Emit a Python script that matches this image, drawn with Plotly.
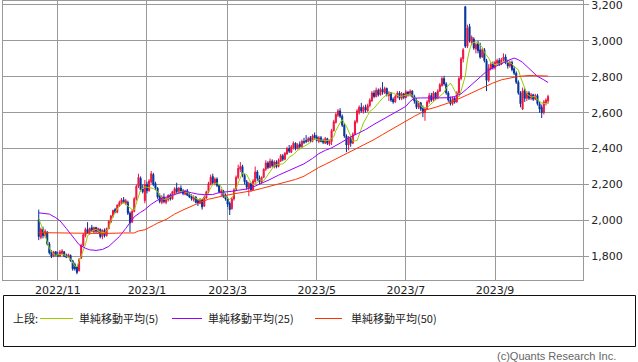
import plotly.graph_objects as go

# ---------------- data ----------------
month_tick_index = [9, 51, 89, 131, 173, 215]
month_tick_labels = ["2022/11", "2023/1", "2023/3", "2023/5", "2023/7", "2023/9"]
price_ticks = [1800, 2000, 2200, 2400, 2600, 2800, 3000, 3200]

opens = [
    2005, 1905, 1950, 1915, 1935, 1870, 1825, 1800, 1825, 1810,
    1800, 1815, 1825, 1805, 1795, 1805, 1775, 1755, 1740, 1720,
    1790, 1860, 1915, 1950, 1930, 1960, 1935, 1960, 1935, 1950,
    1910, 1945, 1915, 1955, 1990, 2025, 2060, 2045, 2080, 2095,
    2115, 2095, 2100, 2040, 1990, 2050, 2120, 2190, 2235, 2175,
    2110, 2200, 2165, 2215, 2255, 2205, 2180, 2135, 2100, 2130,
    2100, 2115, 2140, 2120, 2150, 2180, 2155, 2180, 2165, 2145,
    2165, 2145, 2135, 2115, 2130, 2110, 2095, 2115, 2080, 2125,
    2160, 2200, 2245, 2205, 2230, 2195, 2155, 2165, 2140, 2120,
    2095, 2065, 2120, 2170, 2240, 2285, 2300, 2250, 2215, 2180,
    2205, 2170, 2215, 2270, 2235, 2210, 2240, 2285, 2320, 2295,
    2330, 2300, 2325, 2300, 2330, 2360, 2340, 2370, 2400, 2380,
    2405, 2430, 2400, 2425, 2410, 2440, 2445, 2440, 2460, 2440,
    2475, 2465, 2440, 2460, 2445, 2430, 2455, 2425, 2440, 2500,
    2545, 2585, 2610, 2580, 2530, 2470, 2420, 2455, 2430, 2480,
    2550, 2600, 2630, 2605, 2630, 2610, 2640, 2665, 2710, 2690,
    2725, 2700, 2730, 2710, 2735, 2695, 2710, 2675, 2660, 2690,
    2710, 2680, 2705, 2685, 2715, 2700, 2720, 2690, 2670, 2630,
    2655, 2625, 2600, 2620, 2660, 2695, 2670, 2710, 2680, 2720,
    2750, 2790, 2760, 2710, 2670, 2650, 2680, 2660, 2710, 2790,
    2900, 3190, 2970, 3080, 2990, 3010, 2955, 2985, 2950, 2910,
    2950, 2890, 2780, 2845, 2870, 2850, 2875, 2890, 2870, 2895,
    2910, 2880, 2860, 2880, 2845, 2820, 2770, 2710, 2620, 2725,
    2680, 2710, 2680, 2700, 2675, 2695, 2650, 2630, 2600, 2655,
    2665,
]
highs = [
    2060, 1960, 1965, 1950, 1940, 1880, 1835, 1830, 1830, 1825,
    1835, 1840, 1830, 1815, 1815, 1810, 1780, 1765, 1745, 1790,
    1870, 1930, 1960, 1990, 1960, 1975, 1965, 1965, 1960, 1955,
    1950, 1955, 1960, 2000, 2030, 2060, 2070, 2090, 2110, 2125,
    2130, 2120, 2110, 2050, 2060, 2130, 2200, 2260, 2245, 2200,
    2225, 2215, 2230, 2275, 2265, 2215, 2185, 2150, 2140, 2150,
    2130, 2145, 2150, 2165, 2185, 2210, 2185, 2195, 2175, 2170,
    2175, 2155, 2145, 2140, 2135, 2120, 2125, 2120, 2140, 2165,
    2215, 2255, 2260, 2240, 2240, 2200, 2175, 2170, 2150, 2130,
    2105, 2130, 2180, 2250, 2310, 2325, 2310, 2260, 2225, 2215,
    2210, 2230, 2300, 2280, 2250, 2245, 2290, 2335, 2330, 2345,
    2340, 2335, 2335, 2345, 2370, 2370, 2380, 2410, 2420, 2420,
    2440, 2435, 2430, 2440, 2450, 2460, 2475, 2465, 2470, 2480,
    2490, 2475, 2470, 2470, 2455, 2465, 2460, 2450, 2510, 2560,
    2600, 2620, 2625, 2590, 2540, 2480, 2470, 2470, 2490, 2560,
    2620, 2640, 2655, 2640, 2645, 2650, 2680, 2720, 2725, 2740,
    2735, 2740, 2770, 2745, 2740, 2720, 2715, 2685, 2700, 2720,
    2720, 2715, 2710, 2725, 2720, 2730, 2725, 2700, 2680, 2665,
    2660, 2640, 2630, 2670, 2710, 2710, 2720, 2715, 2730, 2765,
    2800, 2805, 2770, 2720, 2690, 2690, 2690, 2720, 2800, 2910,
    2960, 3195, 3090, 3095, 3030, 3020, 2990, 3000, 2990, 2960,
    2960, 2900, 2870, 2880, 2885, 2890, 2900, 2905, 2905, 2930,
    2925, 2895, 2890, 2890, 2860, 2830, 2780, 2720, 2740, 2735,
    2720, 2720, 2710, 2705, 2705, 2705, 2660, 2645, 2670, 2680,
    2700,
]
lows = [
    1890, 1895, 1900, 1905, 1860, 1810, 1790, 1795, 1800, 1795,
    1795, 1805, 1795, 1790, 1790, 1770, 1720, 1720, 1700, 1715,
    1785, 1855, 1905, 1925, 1920, 1935, 1930, 1930, 1925, 1900,
    1895, 1905, 1910, 1950, 1985, 2015, 2040, 2040, 2075, 2090,
    2095, 2085, 2030, 1935, 1985, 2045, 2110, 2180, 2160, 2150,
    2095, 2150, 2160, 2205, 2190, 2170, 2120, 2095, 2090, 2095,
    2090, 2105, 2110, 2115, 2140, 2150, 2150, 2150, 2140, 2140,
    2135, 2125, 2110, 2105, 2095, 2080, 2090, 2060, 2075, 2120,
    2150, 2195, 2200, 2195, 2185, 2150, 2135, 2125, 2110, 2075,
    2030, 2060, 2110, 2165, 2230, 2270, 2240, 2200, 2170, 2135,
    2160, 2165, 2210, 2220, 2200, 2205, 2235, 2275, 2285, 2290,
    2295, 2290, 2290, 2295, 2325, 2330, 2335, 2365, 2375, 2375,
    2395, 2390, 2395, 2400, 2405, 2425, 2430, 2435, 2435, 2435,
    2450, 2440, 2430, 2435, 2425, 2425, 2420, 2415, 2420, 2495,
    2540, 2575, 2570, 2520, 2460, 2380, 2390, 2410, 2425, 2475,
    2540, 2590, 2600, 2595, 2600, 2605, 2630, 2660, 2680, 2685,
    2690, 2695, 2700, 2705, 2690, 2665, 2660, 2650, 2655, 2680,
    2670, 2670, 2675, 2680, 2690, 2690, 2680, 2650, 2620, 2620,
    2610, 2575, 2555, 2615, 2650, 2660, 2665, 2670, 2675, 2715,
    2745, 2750, 2700, 2660, 2640, 2640, 2650, 2655, 2700, 2780,
    2880, 2960, 2960, 2990, 2975, 2950, 2930, 2930, 2900, 2905,
    2880, 2720, 2770, 2835, 2840, 2840, 2860, 2860, 2865, 2885,
    2870, 2845, 2850, 2830, 2810, 2760, 2700, 2630, 2615, 2660,
    2665, 2670, 2670, 2665, 2670, 2640, 2600, 2570, 2590, 2640,
    2650,
]
closes = [
    1910, 1950, 1915, 1940, 1870, 1820, 1800, 1825, 1805, 1800,
    1825, 1830, 1800, 1795, 1810, 1775, 1730, 1730, 1710, 1780,
    1860, 1920, 1950, 1930, 1955, 1940, 1960, 1940, 1955, 1910,
    1945, 1915, 1955, 1995, 2025, 2055, 2045, 2085, 2100, 2115,
    2100, 2110, 2040, 1985, 2050, 2120, 2190, 2240, 2170, 2160,
    2200, 2165, 2220, 2260, 2200, 2180, 2130, 2105, 2130, 2105,
    2120, 2140, 2120, 2160, 2175, 2160, 2180, 2160, 2150, 2165,
    2140, 2130, 2120, 2130, 2100, 2095, 2115, 2075, 2130, 2160,
    2205, 2240, 2210, 2230, 2195, 2160, 2165, 2135, 2120, 2090,
    2060, 2120, 2170, 2240, 2290, 2300, 2250, 2215, 2185, 2205,
    2170, 2220, 2270, 2235, 2215, 2240, 2285, 2320, 2295, 2330,
    2305, 2325, 2300, 2335, 2360, 2340, 2375, 2400, 2385, 2410,
    2430, 2400, 2420, 2410, 2440, 2435, 2440, 2455, 2445, 2470,
    2460, 2445, 2460, 2440, 2435, 2455, 2430, 2445, 2500, 2550,
    2590, 2610, 2580, 2530, 2470, 2420, 2460, 2430, 2480, 2550,
    2610, 2630, 2610, 2630, 2615, 2640, 2670, 2710, 2690, 2725,
    2700, 2730, 2715, 2735, 2700, 2710, 2670, 2660, 2690, 2710,
    2680, 2705, 2685, 2715, 2700, 2720, 2690, 2665, 2630, 2655,
    2620, 2600, 2620, 2660, 2695, 2670, 2710, 2680, 2720, 2755,
    2790, 2760, 2710, 2670, 2650, 2680, 2660, 2710, 2790, 2900,
    2950, 2970, 3070, 3000, 3020, 2960, 2980, 2945, 2910, 2950,
    2890, 2780, 2850, 2870, 2850, 2880, 2890, 2870, 2895, 2910,
    2880, 2860, 2880, 2840, 2820, 2770, 2710, 2650, 2720, 2680,
    2710, 2680, 2700, 2675, 2695, 2650, 2620, 2600, 2660, 2670,
    2690,
]
day_index = list(range(len(closes)))

ma_names = ["単純移動平均(5)", "単純移動平均(25)", "単純移動平均(50)"]
ma_colors = ["#99cc00", "#9900ff", "#ff3300"]

ma5_idx = [0, 1, 2, 4, 5, 7, 8, 11, 13, 15, 17, 18, 19, 20, 22, 23, 25, 27, 29, 31,
           33, 34, 36, 38, 40, 42, 44, 45, 47, 48, 50, 52, 54, 56, 58, 59, 61, 63, 64, 66,
           68, 70, 72, 74, 76, 78, 80, 82, 84, 86, 87, 88, 90, 92, 93, 95, 96, 98, 100, 101,
           103, 104, 106, 107, 109, 111, 112, 114, 115, 117, 118, 120, 122, 124, 126, 128, 130, 132, 135, 137,
           139, 140, 142, 143, 145, 147, 148, 150, 151, 153, 155, 156, 158, 159, 161, 162, 164, 166, 167, 169,
           170, 172, 174, 175, 177, 178, 180, 181, 183, 184, 186, 188, 189, 191, 192, 194, 195, 197, 198, 199,
           201, 202, 203, 204, 206, 207, 209, 210, 212, 213, 215, 217, 218, 220, 221, 223, 224, 226, 227, 229,
           230, 232, 234, 235, 237, 239, 240]
ma5_val = [2009, 1980, 1950, 1880, 1845, 1811, 1806, 1812, 1802, 1785, 1745, 1742, 1770, 1802, 1865, 1913, 1942, 1950, 1935, 1932,
           1955, 1996, 2045, 2080, 2100, 2080, 2060, 2058, 2125, 2170, 2187, 2182, 2178, 2160, 2125, 2117, 2120, 2140, 2144, 2158,
           2163, 2155, 2139, 2123, 2113, 2126, 2160, 2200, 2209, 2188, 2150, 2130, 2117, 2140, 2181, 2240, 2265, 2255, 2210, 2200,
           2210, 2228, 2220, 2237, 2274, 2305, 2311, 2311, 2315, 2335, 2352, 2366, 2390, 2405, 2420, 2433, 2455, 2448, 2446, 2446,
           2465, 2500, 2543, 2561, 2524, 2470, 2441, 2445, 2480, 2543, 2585, 2607, 2625, 2639, 2665, 2681, 2700, 2709, 2709, 2698,
           2691, 2694, 2702, 2705, 2685, 2672, 2640, 2626, 2628, 2639, 2663, 2683, 2691, 2712, 2737, 2765, 2745, 2700, 2687, 2720,
           2805, 2894, 2950, 2985, 2996, 2987, 2965, 2935, 2904, 2880, 2867, 2872, 2880, 2885, 2880, 2872, 2857, 2839, 2800, 2737,
           2705, 2687, 2691, 2672, 2654, 2650, 2654]

ma25_idx = [0, 5, 8, 10, 13, 16, 19, 22, 24, 27, 30, 33, 35, 38, 41, 43, 45, 48, 50, 53,
            55, 57, 59, 62, 64, 67, 69, 72, 75, 78, 82, 85, 88, 91, 94, 98, 101, 105, 109, 113,
            117, 121, 125, 129, 132, 135, 138, 142, 146, 150, 154, 158, 162, 166, 170, 173, 175, 177, 180, 185,
            190, 193, 196, 199, 202, 205, 208, 211, 214, 217, 220, 222, 224, 226, 228, 230, 232, 235, 238, 240]
ma25_val = [2042, 2035, 2015, 1998, 1955, 1908, 1865, 1845, 1836, 1833, 1838, 1855, 1875, 1910, 1955, 1985, 2020, 2045, 2060, 2090,
            2107, 2120, 2126, 2135, 2144, 2155, 2162, 2154, 2146, 2144, 2144, 2155, 2157, 2162, 2168, 2175, 2186, 2205, 2228, 2252,
            2274, 2295, 2315, 2345, 2372, 2390, 2404, 2430, 2459, 2482, 2506, 2535, 2561, 2588, 2612, 2635, 2663, 2681, 2682, 2682,
            2682, 2683, 2690, 2705, 2735, 2765, 2800, 2830, 2850, 2868, 2885, 2895, 2904, 2895, 2880, 2858, 2839, 2802, 2783, 2768]

ma50_idx = [0, 10, 20, 30, 40, 43, 45, 47, 50, 54, 56, 60, 64, 68, 72, 76, 80, 84, 88, 92,
            96, 101, 105, 109, 113, 117, 121, 125, 129, 132, 135, 138, 142, 146, 150, 154, 158, 162, 166, 170,
            174, 177, 180, 183, 187, 191, 195, 199, 203, 207, 211, 214, 218, 222, 226, 231, 236, 240]
ma50_val = [1932, 1930, 1928, 1927, 1930, 1928, 1930, 1941, 1948, 1972, 1985, 2005, 2035, 2058, 2080, 2100, 2118, 2130, 2139, 2148,
            2155, 2166, 2178, 2191, 2203, 2215, 2228, 2246, 2275, 2295, 2312, 2330, 2352, 2376, 2399, 2422, 2450, 2478, 2506, 2535,
            2563, 2580, 2598, 2617, 2630, 2644, 2662, 2683, 2705, 2730, 2752, 2765, 2783, 2793, 2802, 2807, 2806, 2804]

legend_prefix = "上段:"
copyright_text = "(c)Quants Research Inc."

# ---------------- layout helpers (pixel geometry) ----------------
W, H = 638, 362
ML, MR, MT, MB = 3, 55, 1, 82
PW, PH = W - ML - MR, H - MT - MB


def px(x):
    return (x - ML) / PW


def py(y):
    return (MT + PH - y) / PH


fig = go.Figure()

fig.add_trace(go.Candlestick(
    x=day_index, open=opens, high=highs, low=lows, close=closes,
    increasing=dict(line=dict(color="#f01440", width=1), fillcolor="#f01440"),
    decreasing=dict(line=dict(color="#003399", width=1), fillcolor="#003399"),
    whiskerwidth=0, showlegend=False, hoverinfo="skip",
))

for name, color, xs, ys in zip(ma_names, ma_colors,
                               [ma5_idx, ma25_idx, ma50_idx],
                               [ma5_val, ma25_val, ma50_val]):
    fig.add_trace(go.Scatter(x=xs, y=ys, mode="lines", name=name,
                             line=dict(color=color, width=1), showlegend=False,
                             hoverinfo="skip"))

grid = "#999999"
fig.update_layout(
    width=W, height=H, autosize=False,
    margin=dict(l=ML, r=MR, t=MT, b=MB, pad=0, autoexpand=False),
    paper_bgcolor="white", plot_bgcolor="white",
    font=dict(family="DejaVu Sans", size=11, color="#222"),
    xaxis=dict(
        range=[-16.84, 256.46], tickvals=month_tick_index, ticktext=month_tick_labels,
        showgrid=True, gridcolor=grid, gridwidth=1, ticks="",
        showline=True, linecolor=grid, linewidth=1, mirror=True,
        zeroline=False, rangeslider=dict(visible=False), automargin=False,
        tickfont=dict(family="DejaVu Sans", size=11, color="#222"),
    ),
    yaxis=dict(
        side="right", range=[1668, 3222], tickvals=price_ticks, tickformat=",d",
        showgrid=True, gridcolor=grid, gridwidth=1,
        ticks="outside", ticklen=5, tickcolor=grid,
        showline=True, linecolor=grid, linewidth=1, mirror=True,
        zeroline=False, automargin=False, ticklabeloverflow="allow",
        tickfont=dict(family="DejaVu Sans", size=11, color="#222"),
    ),
)

shapes = [dict(type="rect", xref="paper", yref="paper",
               x0=px(3.5), x1=px(635.5), y0=py(295.5), y1=py(346.5),
               line=dict(color="#111", width=1), fillcolor="rgba(0,0,0,0)")]
annotations = [dict(xref="paper", yref="paper", x=px(11), y=py(318), xanchor="left",
                    yanchor="middle", text=legend_prefix, showarrow=False,
                    font=dict(family="Noto Sans CJK JP", size=11, color="#222"))]
line_spans = [(40, 73), (172, 202), (315, 342)]
text_starts = [77, 206, 349]
for (x0, x1), tx, name, color in zip(line_spans, text_starts, ma_names, ma_colors):
    shapes.append(dict(type="line", xref="paper", yref="paper",
                       x0=px(x0), x1=px(x1), y0=py(318.5), y1=py(318.5),
                       line=dict(color=color, width=1)))
    annotations.append(dict(xref="paper", yref="paper", x=px(tx), y=py(318),
                            xanchor="left", yanchor="middle", text=name, showarrow=False,
                            font=dict(family="Noto Sans CJK JP", size=11, color="#222")))
annotations.append(dict(xref="paper", yref="paper", x=px(618), y=py(356),
                        xanchor="right", yanchor="middle", text=copyright_text,
                        showarrow=False,
                        font=dict(family="Liberation Sans", size=11, color="#666")))
fig.update_layout(shapes=shapes, annotations=annotations)

fig.write_html("out.html", config=dict(displayModeBar=False),
               post_script="document.body.style.margin='0';document.body.style.padding='0';")
